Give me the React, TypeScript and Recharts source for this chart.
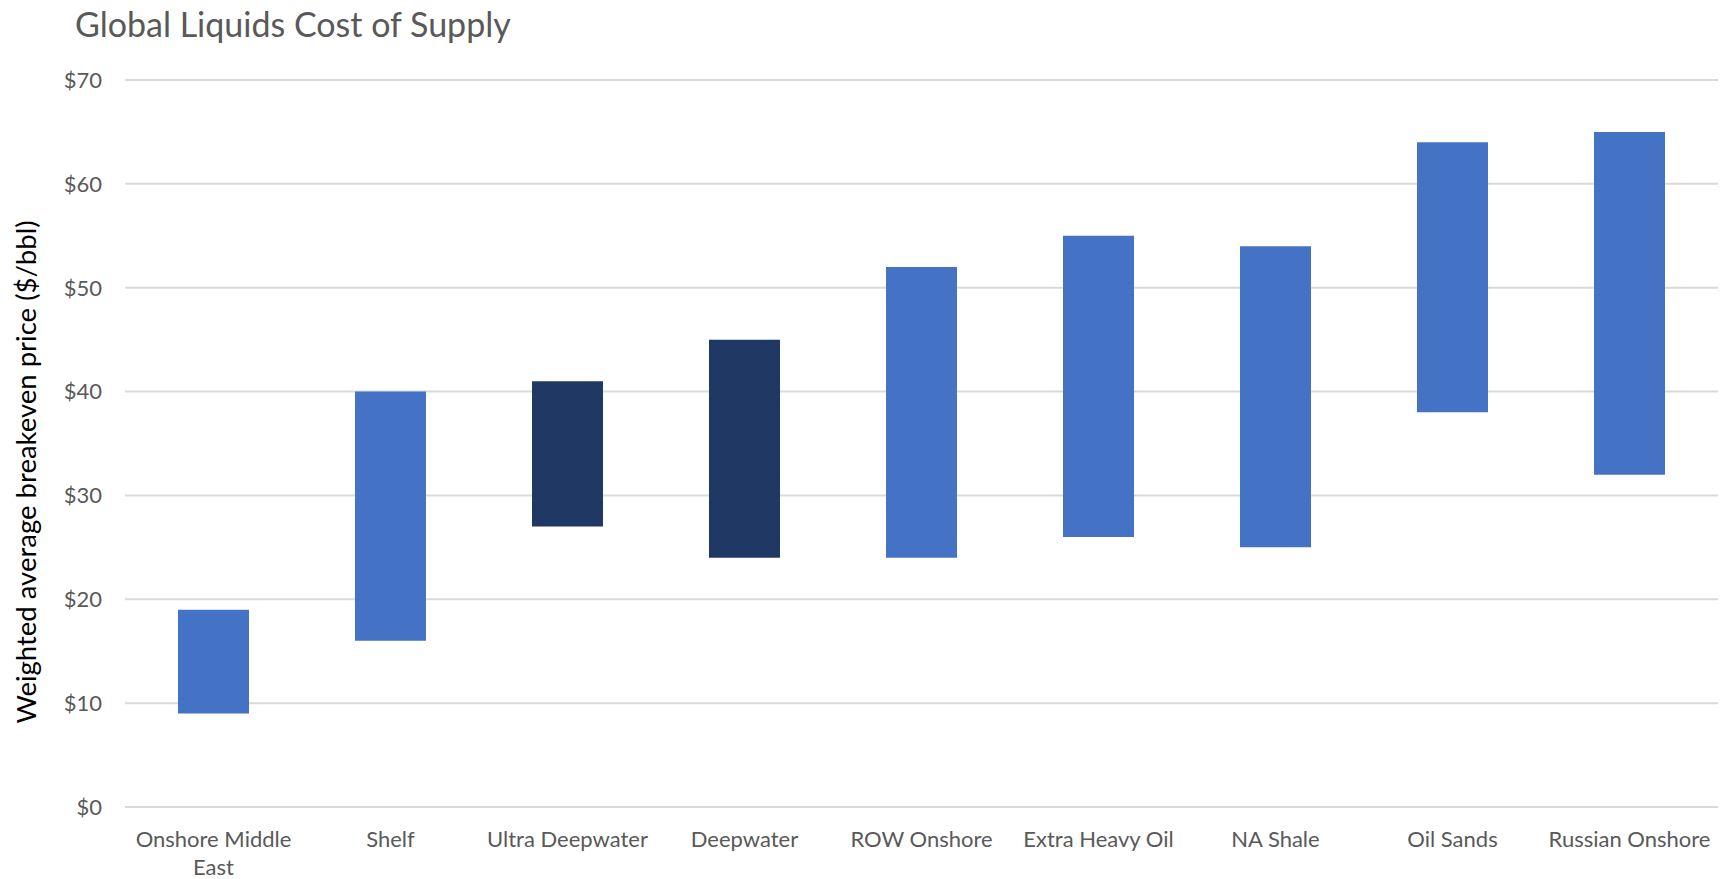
import React from 'react';
import { BarChart, Bar, XAxis, YAxis, CartesianGrid, Cell, Label } from 'recharts';

// Breakeven price range per supply segment, $/bbl
const categories = [
  'Onshore Middle East',
  'Shelf',
  'Ultra Deepwater',
  'Deepwater',
  'ROW Onshore',
  'Extra Heavy Oil',
  'NA Shale',
  'Oil Sands',
  'Russian Onshore',
];
const lowPrices = [9, 16, 27, 24, 24, 26, 25, 38, 32];
const highPrices = [19, 40, 41, 45, 52, 55, 54, 64, 65];
const highlighted = ['Ultra Deepwater', 'Deepwater'];
const yTicks = [0, 10, 20, 30, 40, 50, 60, 70];

const BLUE = '#4472C4';
const NAVY = '#203864';
const GRID = '#D9D9D9';
const LABEL_GREY = '#595959';
const FONT = 'Lato, "Open Sans", sans-serif';

const data = categories.map((name, i) => ({
  name,
  range: [lowPrices[i], highPrices[i]],
}));

// long category names go on two lines, broken at the last space
const wrapLabel = (label: string): string[] => {
  if (label.length <= 16) return [label];
  const cut = label.lastIndexOf(' ');
  return [label.slice(0, cut), label.slice(cut + 1)];
};

const XTick = (props: any) => {
  const { x, y, payload } = props;
  const lines = wrapLabel(String(payload.value));
  return (
    <text x={x} y={y} textAnchor="middle" fill={LABEL_GREY} fontSize={22} fontFamily={FONT}>
      {lines.map((line, i) => (
        <tspan key={line} x={x} dy={i === 0 ? '0.71em' : 28}>
          {line}
        </tspan>
      ))}
    </text>
  );
};

const YTick = (props: any) => {
  const { y, payload } = props;
  return (
    <text
      x={102}
      y={y}
      dy="0.36em"
      textAnchor="end"
      fill={LABEL_GREY}
      fontSize={22}
      fontFamily={FONT}
    >
      {`$${payload.value}`}
    </text>
  );
};

const AxisTitle = () => (
  <text
    x={25}
    y={472}
    transform="rotate(-90, 25, 472)"
    textAnchor="middle"
    dominantBaseline="central"
    fill="#000000"
    fontSize={27.5}
    fontFamily={FONT}
  >
    Weighted average breakeven price ($/bbl)
  </text>
);

export default function App() {
  return (
    <div style={{ position: 'absolute', left: 0, top: 0, width: 1729, height: 879, background: '#fff' }}>
      <div
        style={{
          position: 'absolute',
          left: 75,
          top: 3,
          fontFamily: FONT,
          fontSize: 34,
          color: LABEL_GREY,
          whiteSpace: 'nowrap',
          lineHeight: '42px',
        }}
      >
        Global Liquids Cost of Supply
      </div>
      <BarChart
        width={1729}
        height={879}
        data={data}
        margin={{ top: 80, right: 11, bottom: 0, left: 0 }}
        barSize={71}
      >
        <CartesianGrid vertical={false} stroke={GRID} strokeWidth={2} />
        <XAxis
          dataKey="name"
          axisLine={false}
          tickLine={false}
          tickSize={0}
          tickMargin={24}
          height={72}
          interval={0}
          tick={<XTick />}
        />
        <YAxis
          width={125}
          domain={[0, 70]}
          ticks={yTicks}
          axisLine={false}
          tickLine={false}
          tick={<YTick />}
        >
          <Label content={<AxisTitle />} />
        </YAxis>
        <Bar dataKey="range" isAnimationActive={false}>
          {data.map((d) => (
            <Cell key={d.name} fill={highlighted.includes(d.name) ? NAVY : BLUE} />
          ))}
        </Bar>
      </BarChart>
    </div>
  );
}
